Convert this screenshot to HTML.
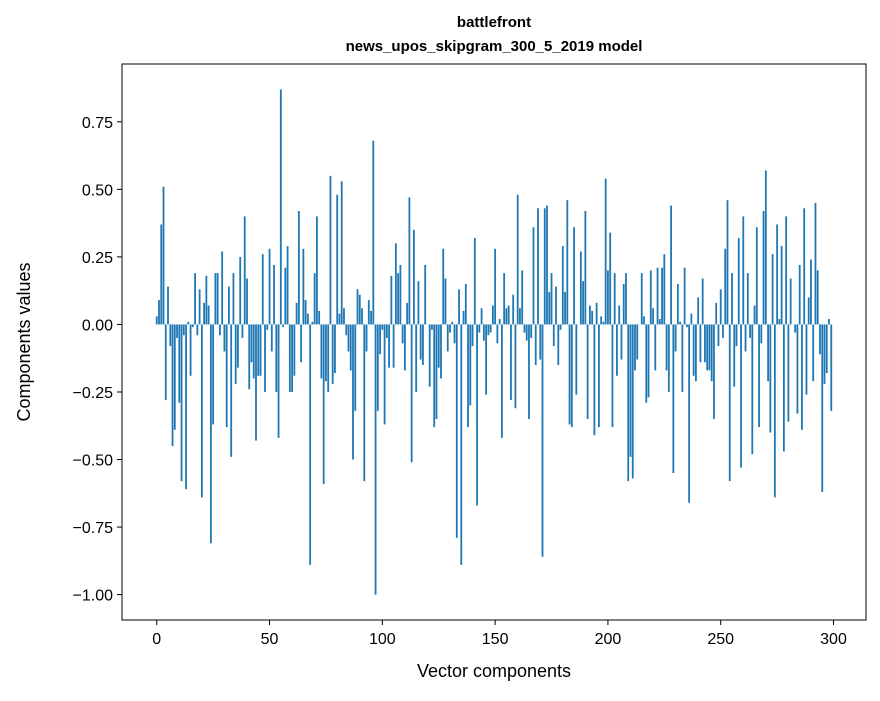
<!DOCTYPE html>
<html><head><meta charset="utf-8"><style>
body{margin:0;background:#fff;font-family:"Liberation Sans",sans-serif}
svg text{font-family:"Liberation Sans",sans-serif}
</style></head><body>
<svg id="chart" width="880" height="696" xmlns="http://www.w3.org/2000/svg">
<rect width="880" height="696" fill="#fff"/>
<text x="494" y="27" text-anchor="middle" font-size="15" font-weight="bold">battlefront</text>
<text x="494" y="51" text-anchor="middle" font-size="15" font-weight="bold">news_upos_skipgram_300_5_2019 model</text>
<g id="bars"></g>
<rect x="122" y="64" width="744" height="556" fill="none" stroke="#000" stroke-width="1"/>
<g id="xticks"></g>
<g id="yticks"></g>
<text x="494" y="677" text-anchor="middle" font-size="18">Vector components</text>
<text transform="translate(30,342) rotate(-90)" text-anchor="middle" font-size="18">Components values</text>
</svg>
<script>
const values = [0.03,0.09,0.37,0.51,-0.28,0.14,-0.08,-0.45,-0.39,-0.05,
-0.29,-0.58,-0.04,-0.61,0.01,-0.19,-0.01,0.19,-0.04,0.13,
-0.64,0.08,0.18,0.07,-0.81,-0.37,0.19,0.19,-0.04,0.27,
-0.10,-0.38,0.14,-0.49,0.19,-0.22,-0.16,0.25,-0.05,0.40,
0.17,-0.24,-0.14,-0.20,-0.43,-0.19,-0.19,0.26,-0.25,-0.02,
0.28,-0.10,0.22,-0.25,-0.42,0.87,-0.01,0.21,0.29,-0.25,
-0.25,-0.19,0.08,0.42,-0.14,0.28,0.09,0.04,-0.89,0.01,
0.19,0.40,0.05,-0.20,-0.59,-0.21,-0.25,0.55,-0.22,-0.18,
0.48,0.04,0.53,0.06,-0.04,-0.10,-0.17,-0.50,-0.32,0.13,
0.11,0.06,-0.58,-0.10,0.09,0.05,0.68,-1.00,-0.32,-0.11,
-0.02,-0.37,-0.05,-0.16,0.18,-0.16,0.30,0.19,0.22,-0.07,
-0.17,0.08,0.47,-0.51,0.35,-0.25,0.16,-0.13,-0.15,0.22,
0.00,-0.23,-0.02,-0.38,-0.35,-0.16,-0.20,0.28,0.17,-0.10,
-0.03,0.01,-0.07,-0.79,0.13,-0.89,0.05,0.15,-0.38,-0.30,
-0.08,0.32,-0.67,-0.03,0.06,-0.06,-0.26,-0.04,-0.03,0.07,
0.28,-0.07,0.02,-0.42,0.19,0.06,0.07,-0.28,0.11,-0.31,
0.48,0.06,0.20,-0.03,-0.06,-0.35,-0.05,0.36,-0.15,0.43,
-0.13,-0.86,0.43,0.44,0.12,0.19,-0.08,0.14,-0.15,-0.02,
0.29,0.12,0.46,-0.37,-0.38,0.36,-0.26,0.00,0.27,0.16,
0.42,-0.35,0.07,0.05,-0.41,0.08,-0.38,0.03,0.01,0.54,
0.20,0.34,-0.38,0.19,-0.19,0.07,-0.13,0.15,0.19,-0.58,
-0.49,-0.57,-0.17,-0.13,0.00,0.19,0.03,-0.29,-0.27,0.20,
0.06,-0.17,0.21,0.02,0.21,0.26,-0.17,-0.25,0.44,-0.55,
-0.10,0.15,0.01,-0.25,0.21,-0.01,-0.66,0.04,-0.19,-0.21,
0.10,-0.14,0.17,-0.14,-0.17,-0.17,-0.21,-0.35,0.08,-0.08,
0.13,-0.05,0.28,0.46,-0.58,0.19,-0.23,-0.08,0.32,-0.53,
0.40,-0.10,0.19,-0.05,-0.48,0.07,0.36,-0.38,-0.07,0.42,
0.57,-0.21,-0.40,0.26,-0.64,0.37,0.02,0.29,-0.47,0.40,
-0.36,0.17,0.00,-0.03,-0.33,0.22,-0.39,0.43,-0.26,0.10,
0.24,-0.21,0.45,0.20,-0.11,-0.62,-0.22,-0.18,0.02,-0.32];
const xTickValues = [0,50,100,150,200,250,300];
const yTickValues = [0.75,0.50,0.25,0.00,-0.25,-0.50,-0.75,-1.00];
const yTickLabels = ["0.75","0.50","0.25","0.00","\u22120.25","\u22120.50","\u22120.75","\u22121.00"];

const NS="http://www.w3.org/2000/svg";
const PL=122,PR=866,PT=64,PB=620,XMIN=-15.4,XMAX=314.4,YMAX=0.964,YMIN=-1.094;
function xs(v){return PL+(v-XMIN)/(XMAX-XMIN)*(PR-PL);}
function ys(v){return PT+(YMAX-v)/(YMAX-YMIN)*(PB-PT);}
const bars=document.getElementById('bars');
values.forEach((v,i)=>{
  const r=document.createElementNS(NS,'rect');
  const x0=xs(i-0.4),x1=xs(i+0.4);
  const y0=ys(Math.max(v,0)),y1=ys(Math.min(v,0));
  r.setAttribute('x',x0);r.setAttribute('width',x1-x0);
  r.setAttribute('y',y0);r.setAttribute('height',Math.max(y1-y0,0.1));
  r.setAttribute('fill','#1f77b4');
  
  
  bars.appendChild(r);
});
const xt=document.getElementById('xticks');
xTickValues.forEach(v=>{
  const l=document.createElementNS(NS,'line');
  l.setAttribute('x1',xs(v));l.setAttribute('x2',xs(v));l.setAttribute('y1',PB);l.setAttribute('y2',PB+5);
  l.setAttribute('stroke','#000');
  
  
  xt.appendChild(l);
  const t=document.createElementNS(NS,'text');
  t.setAttribute('x',xs(v));t.setAttribute('y',PB+24);t.setAttribute('text-anchor','middle');t.setAttribute('font-size','16');
  t.textContent=v;
  
  
  xt.appendChild(t);
});
const yt=document.getElementById('yticks');
yTickValues.forEach((v,k)=>{
  const l=document.createElementNS(NS,'line');
  l.setAttribute('x1',PL-5);l.setAttribute('x2',PL);l.setAttribute('y1',ys(v));l.setAttribute('y2',ys(v));
  l.setAttribute('stroke','#000');
  
  
  yt.appendChild(l);
  const t=document.createElementNS(NS,'text');
  t.setAttribute('x',PL-9);t.setAttribute('y',ys(v)+6);t.setAttribute('text-anchor','end');t.setAttribute('font-size','16');
  t.textContent=yTickLabels[k];
  
  
  yt.appendChild(t);
});
</script>
</body></html>
